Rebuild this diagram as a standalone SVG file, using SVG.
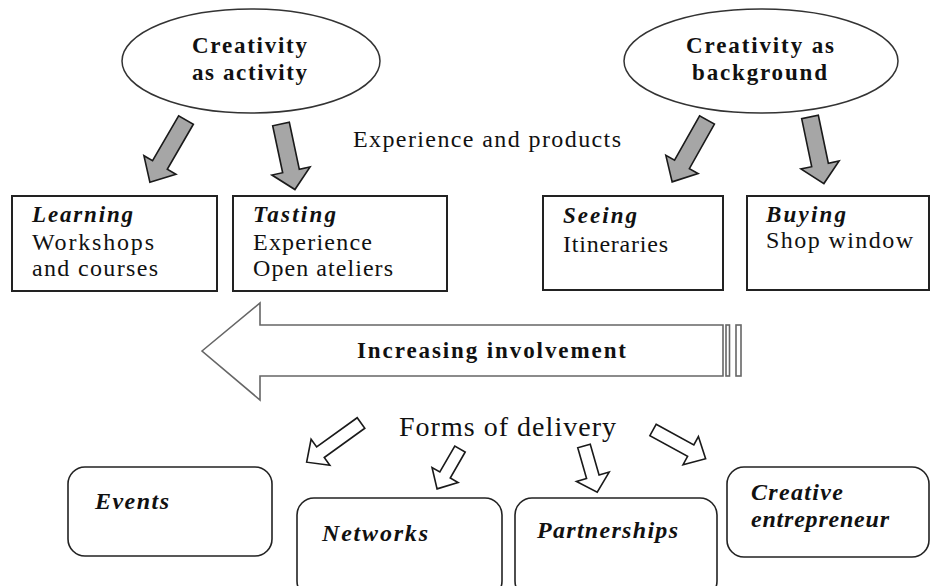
<svg xmlns="http://www.w3.org/2000/svg" width="932" height="586" viewBox="0 0 932 586">
<style>
  text { font-family: "Liberation Serif", "Times New Roman", serif; fill: #111; }
  .ell { fill: #fff; stroke: #333; stroke-width: 1.5; }
  .box { fill: #fff; stroke: #222; stroke-width: 2; }
  .rbox { fill: #fff; stroke: #222; stroke-width: 1.6; }
  .garrow { fill: #a6a6a6; stroke: #1a1a1a; stroke-width: 1.6; stroke-linejoin: miter; }
  .warrow { fill: #fff; stroke: #1a1a1a; stroke-width: 1.6; stroke-linejoin: miter; }
  .big { fill: #fff; stroke: #666; stroke-width: 1.6; }
  .bt { font-size: 23px; font-weight: bold; }
  .t { font-size: 24px; }
  .h { font-size: 23px; font-weight: bold; font-style: italic; }
  .hs { font-size: 24px; font-weight: bold; font-style: italic; }
</style>
<rect width="932" height="586" fill="#fff"/>

<g id="connectors">
  <polygon class="garrow" transform="translate(186,120) rotate(120.1)" points="0,-8.5 52,-8.5 52,-18.5 72,0 52,18.5 52,8.5 0,8.5"/>
  <polygon class="garrow" transform="translate(281,124) rotate(78)" points="0,-8.5 48,-8.5 48,-19.5 67,0 48,19.5 48,8.5 0,8.5"/>
  <polygon class="garrow" transform="translate(707,120) rotate(119.4)" points="0,-8.5 51,-8.5 51,-18.5 71,0 51,18.5 51,8.5 0,8.5"/>
  <polygon class="garrow" transform="translate(810,117) rotate(78.2)" points="0,-8.5 49,-8.5 49,-19.5 68,0 49,19.5 49,8.5 0,8.5"/>
  <polygon class="warrow" transform="translate(361,423) rotate(144.2)" points="0,-6.5 50,-6.5 50,-16 67,0 50,16 50,6.5 0,6.5"/>
  <polygon class="warrow" transform="translate(460,449) rotate(119.9)" points="0,-6 30,-6 30,-15 46,0 30,15 30,6 0,6"/>
  <polygon class="warrow" transform="translate(584,446) rotate(74)" points="0,-6.5 32,-6.5 32,-17 48,0 32,17 32,6.5 0,6.5"/>
  <polygon class="warrow" transform="translate(653,430) rotate(28.7)" points="0,-6.5 43,-6.5 43,-16 60,0 43,16 43,6.5 0,6.5"/>
</g>

<g id="creativity-activity">
  <ellipse class="ell" cx="251" cy="61" rx="129" ry="52"/>
  <text class="bt" x="192" y="53" textLength="115" lengthAdjust="spacing">Creativity</text>
  <text class="bt" x="192" y="80" textLength="115" lengthAdjust="spacing">as activity</text>
</g>

<g id="creativity-background">
  <ellipse class="ell" cx="761" cy="61" rx="137" ry="52"/>
  <text class="bt" x="686" y="53" textLength="148" lengthAdjust="spacing">Creativity as</text>
  <text class="bt" x="692" y="80" textLength="135" lengthAdjust="spacing">background</text>
</g>

<g id="experience-label">
  <text class="t" x="353" y="147" textLength="268" lengthAdjust="spacing">Experience and products</text>
</g>

<g id="learning">
  <rect class="box" x="12" y="196" width="205" height="95"/>
  <text class="h" x="32" y="222" textLength="101" lengthAdjust="spacing">Learning</text>
  <text class="t" x="32" y="250" textLength="122" lengthAdjust="spacing">Workshops</text>
  <text class="t" x="32" y="276" textLength="126" lengthAdjust="spacing">and courses</text>
</g>

<g id="tasting">
  <rect class="box" x="233" y="196" width="214" height="95"/>
  <text class="h" x="253" y="222" textLength="83" lengthAdjust="spacing">Tasting</text>
  <text class="t" x="253" y="250" textLength="119" lengthAdjust="spacing">Experience</text>
  <text class="t" x="253" y="276" textLength="140" lengthAdjust="spacing">Open ateliers</text>
</g>

<g id="seeing">
  <rect class="box" x="543" y="196" width="180" height="94"/>
  <text class="h" x="563" y="223" textLength="74" lengthAdjust="spacing">Seeing</text>
  <text class="t" x="563" y="252" textLength="105" lengthAdjust="spacing">Itineraries</text>
</g>

<g id="buying">
  <rect class="box" x="747" y="196" width="182" height="94"/>
  <text class="h" x="766" y="222" textLength="80" lengthAdjust="spacing">Buying</text>
  <text class="t" x="766" y="248" textLength="147" lengthAdjust="spacing">Shop window</text>
</g>

<g id="increasing-involvement">
  <polygon class="big" points="202,351 260,303 260,325 723,325 723,376 260,376 260,400"/>
  <rect class="big" x="726" y="325" width="3.5" height="51"/>
  <rect class="big" x="736" y="325" width="5" height="51"/>
  <text class="bt" x="357" y="358" textLength="269" lengthAdjust="spacing">Increasing involvement</text>
</g>

<g id="forms-label">
  <text x="399" y="436" style="font-size:28px" textLength="217" lengthAdjust="spacing">Forms of delivery</text>
</g>

<g id="events">
  <rect class="rbox" x="68" y="467" width="204" height="89" rx="17"/>
  <text class="hs" x="95" y="509" textLength="74" lengthAdjust="spacing">Events</text>
</g>

<g id="networks">
  <rect class="rbox" x="297" y="498" width="205" height="100" rx="17"/>
  <text class="hs" x="322" y="541" textLength="106" lengthAdjust="spacing">Networks</text>
</g>

<g id="partnerships">
  <rect class="rbox" x="515" y="498" width="202" height="100" rx="17"/>
  <text class="hs" x="537" y="538" textLength="141" lengthAdjust="spacing">Partnerships</text>
</g>

<g id="creative-entrepreneur">
  <rect class="rbox" x="727" y="467" width="202" height="90" rx="17"/>
  <text class="hs" x="751" y="500" textLength="92" lengthAdjust="spacing">Creative</text>
  <text class="hs" x="751" y="527" textLength="138" lengthAdjust="spacing">entrepreneur</text>
</g>
</svg>
